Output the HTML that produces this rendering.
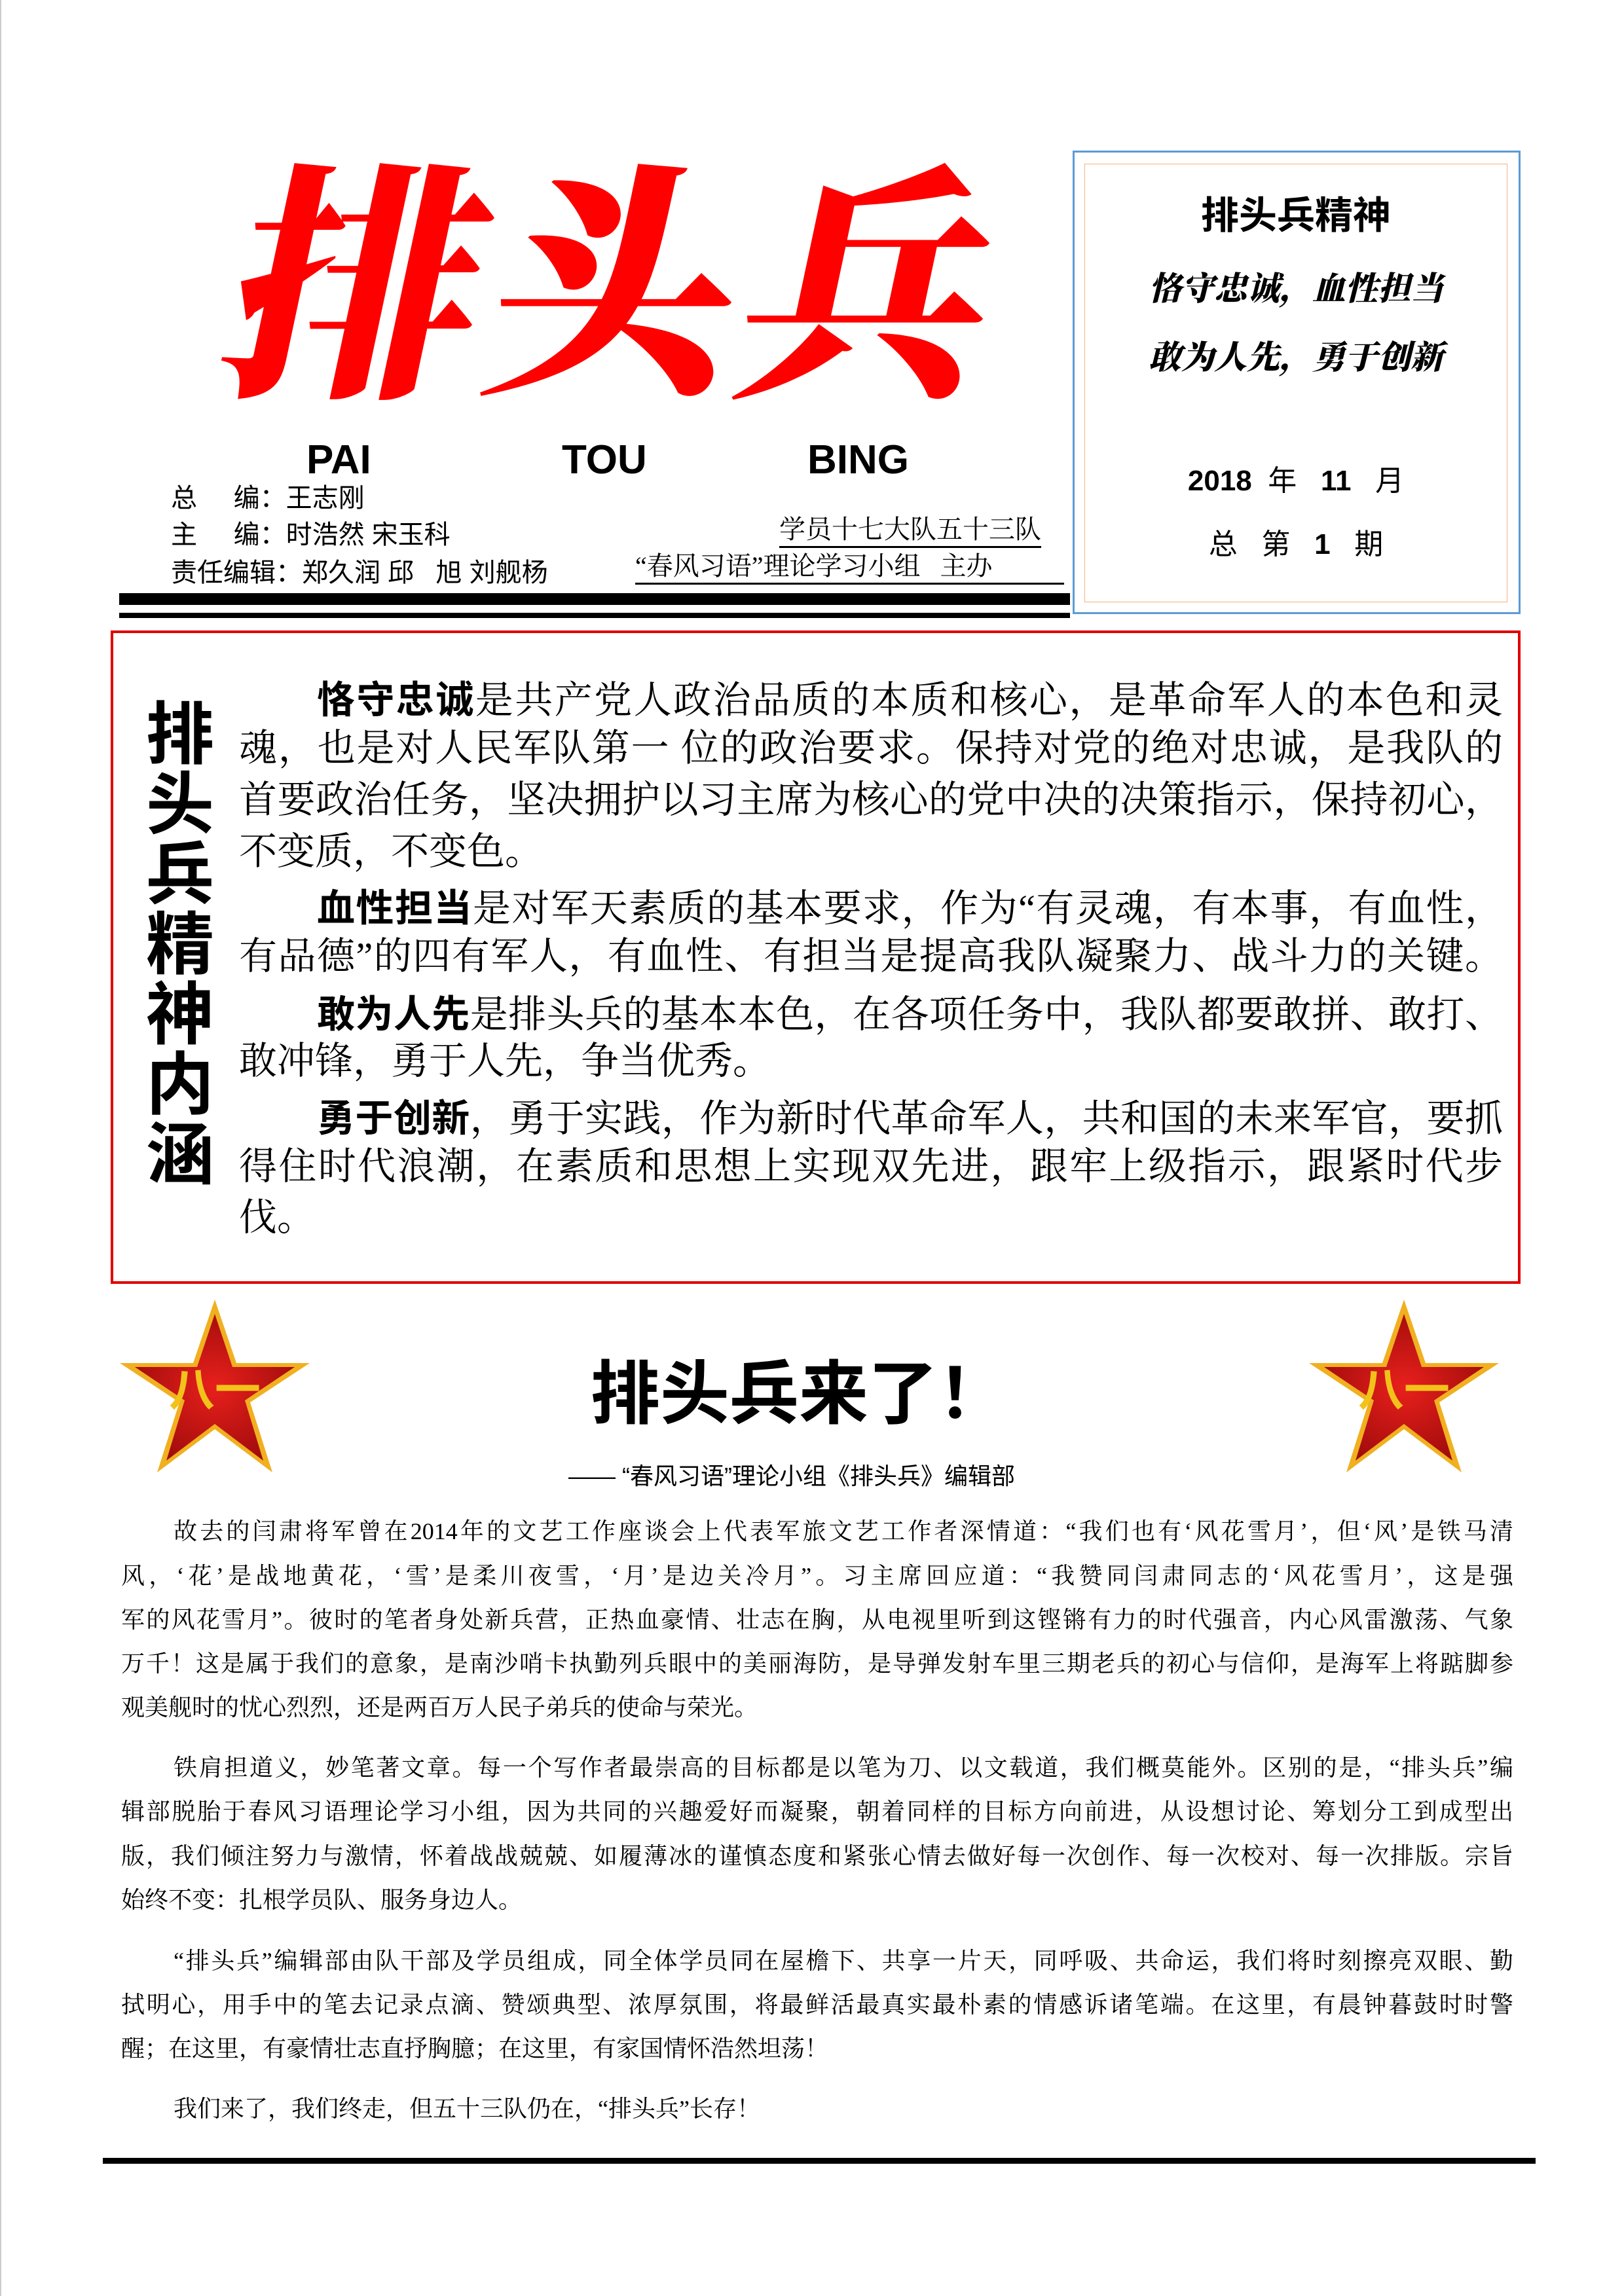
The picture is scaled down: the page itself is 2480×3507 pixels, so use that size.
<!DOCTYPE html>
<html><head><meta charset="utf-8">
<style>
html,body{margin:0;padding:0;background:#fff}
body{width:2480px;height:3507px;position:relative;overflow:hidden;font-family:"Liberation Sans","Noto Sans CJK SC",sans-serif;color:#000}
.a{position:absolute;white-space:nowrap}
.l{position:absolute;white-space:nowrap;text-align:justify;text-align-last:justify}
.s{font-family:"Liberation Serif","Noto Serif CJK SC",serif}
.rb{left:365px;width:1930px;font-size:58px;height:80px;line-height:80px}
.bd{left:185px;width:2126px;font-size:36px;height:67px;line-height:67px}
</style></head><body>
<div class="a" style="left:0;top:0;width:2px;height:3507px;background:#ccc"></div>

<div class="a" style="left:320px;top:190px;font-family:'Noto Serif CJK SC',serif;font-weight:900;font-size:380px;line-height:440px;color:#f00;letter-spacing:10px;transform:skewX(-12deg);transform-origin:left bottom">排头兵</div>

<div class="a" style="left:468px;top:665px;font-size:62px;font-weight:bold;line-height:75px">PAI</div>
<div class="a" style="left:858px;top:665px;font-size:62px;font-weight:bold;line-height:75px">TOU</div>
<div class="a" style="left:1233px;top:665px;font-size:62px;font-weight:bold;line-height:75px">BING</div>

<div class="a" style="left:261px;top:735px;font-size:40px;line-height:52px">总&nbsp;&nbsp;&nbsp;&nbsp;&nbsp;编：王志刚</div>
<div class="a" style="left:261px;top:791px;font-size:40px;line-height:52px">主&nbsp;&nbsp;&nbsp;&nbsp;&nbsp;编：时浩然&nbsp;宋玉科</div>
<div class="a" style="left:261px;top:849px;font-size:40px;line-height:52px">责任编辑：郑久润&nbsp;邱&nbsp;&nbsp;&nbsp;旭&nbsp;刘舰杨</div>
<div class="a s" style="left:1190px;top:784px;font-size:40px;line-height:50px;border-bottom:3px solid #000">学员十七大队五十三队</div>
<div class="a s" style="left:970px;top:840px;font-size:40px;line-height:50px;border-bottom:3px solid #000;width:655px">“春风习语”理论学习小组&nbsp;&nbsp;&nbsp;主办</div>

<div class="a" style="left:182px;top:906px;width:1452px;height:18px;background:#000"></div>
<div class="a" style="left:182px;top:936px;width:1452px;height:8px;background:#000"></div>

<div class="a" style="left:1638px;top:230px;width:678px;height:702px;border:3px solid #5b9bd5"></div>
<div class="a" style="left:1656px;top:250px;width:644px;height:668px;border:1px solid #f4b183"></div>
<div class="a" style="left:1656px;top:295px;width:646px;text-align:center;font-size:58px;font-weight:bold;line-height:70px">排头兵精神</div>
<div class="a" style="left:1656px;top:405px;width:646px;text-align:center;font-family:'Noto Serif CJK SC',serif;font-size:50px;font-weight:900;line-height:64px;font-style:italic">恪守忠诚，血性担当</div>
<div class="a" style="left:1656px;top:510px;width:646px;text-align:center;font-family:'Noto Serif CJK SC',serif;font-size:50px;font-weight:900;line-height:64px;font-style:italic">敢为人先，勇于创新</div>
<div class="a" style="left:1656px;top:707px;width:646px;text-align:center;font-size:44px;line-height:56px"><b>2018</b>&nbsp;&nbsp;年&nbsp;&nbsp;&nbsp;<b>11</b>&nbsp;&nbsp;&nbsp;月</div>
<div class="a" style="left:1656px;top:804px;width:646px;text-align:center;font-size:44px;line-height:56px">总&nbsp;&nbsp;&nbsp;第&nbsp;&nbsp;&nbsp;<b>1</b>&nbsp;&nbsp;&nbsp;期</div>

<div class="a" style="left:169px;top:963px;width:2145px;height:990px;border:4px solid #e00000"></div>
<div class="a" style="left:220px;top:1070px;width:110px;font-size:104px;font-weight:bold;line-height:107px;white-space:normal;text-align:center">排<br>头<br>兵<br>精<br>神<br>内<br>涵</div>

<div class="l s rb" style="top:1024px;left:484px;width:1811px"><b style="font-family:'Noto Sans CJK SC',sans-serif">恪守忠诚</b>是共产党人政治品质的本质和核心，是革命军人的本色和灵</div>
<div class="l s rb" style="top:1103px">魂，也是对人民军队第一 位的政治要求。保持对党的绝对忠诚，是我队的</div>
<div class="l s rb" style="top:1182px">首要政治任务，坚决拥护以习主席为核心的党中决的决策指示，保持初心，</div>
<div class="a s rb" style="top:1261px">不变质，不变色。</div>
<div class="l s rb" style="top:1342px;left:484px;width:1811px"><b style="font-family:'Noto Sans CJK SC',sans-serif">血性担当</b>是对军天素质的基本要求，作为“有灵魂，有本事，有血性，</div>
<div class="l s rb" style="top:1421px">有品德”的四有军人，有血性、有担当是提高我队凝聚力、战斗力的关键。</div>
<div class="l s rb" style="top:1504px;left:484px;width:1811px"><b style="font-family:'Noto Sans CJK SC',sans-serif">敢为人先</b>是排头兵的基本本色，在各项任务中，我队都要敢拼、敢打、</div>
<div class="a s rb" style="top:1581px">敢冲锋，勇于人先，争当优秀。</div>
<div class="l s rb" style="top:1663px;left:484px;width:1811px"><b style="font-family:'Noto Sans CJK SC',sans-serif">勇于创新</b>，勇于实践，作为新时代革命军人，共和国的未来军官，要抓</div>
<div class="l s rb" style="top:1742px">得住时代浪潮，在素质和思想上实现双先进，跟牢上级指示，跟紧时代步</div>
<div class="a s rb" style="top:1820px">伐。</div>

<svg class="a" style="left:178px;top:1985px" width="300" height="270" viewBox="-150 -140 300 270">
<defs><radialGradient id="g1" cx="0.5" cy="0.5" r="0.6"><stop offset="0" stop-color="#e8201c"/><stop offset="1" stop-color="#9a0a0a"/></radialGradient></defs>
<polygon points="0,-140 33,-43 145,-43 54,17 88,124 0,58 -88,124 -54,17 -145,-43 -33,-43" fill="#f0b020"/>
<polygon points="0,-118 27,-37 122,-37 46,14 74,106 0,50 -74,106 -46,14 -122,-37 -27,-37" fill="url(#g1)"/>
<text x="0" y="22" text-anchor="middle" font-size="70" font-weight="bold" fill="#f2c21a" font-family="Liberation Sans,Noto Sans CJK SC,sans-serif">八一</text>
</svg>
<svg class="a" style="left:1994px;top:1985px" width="300" height="270" viewBox="-150 -140 300 270">
<polygon points="0,-140 33,-43 145,-43 54,17 88,124 0,58 -88,124 -54,17 -145,-43 -33,-43" fill="#f0b020"/>
<polygon points="0,-118 27,-37 122,-37 46,14 74,106 0,50 -74,106 -46,14 -122,-37 -27,-37" fill="url(#g1)"/>
<text x="0" y="22" text-anchor="middle" font-size="70" font-weight="bold" fill="#f2c21a" font-family="Liberation Sans,Noto Sans CJK SC,sans-serif">八一</text>
</svg>

<div class="a" style="left:860px;top:2065px;width:720px;text-align:center;font-size:106px;font-weight:bold;line-height:130px">排头兵来了！</div>
<div class="a" style="left:868px;top:2230px;font-size:36px;line-height:50px">——&nbsp;“春风习语”理论小组《排头兵》编辑部</div>

<div class="l s bd" style="top:2306px;left:265px;width:2046px">故去的闫肃将军曾在2014年的文艺工作座谈会上代表军旅文艺工作者深情道：“我们也有‘风花雪月’，但‘风’是铁马清</div>
<div class="l s bd" style="top:2374px">风，‘花’是战地黄花，‘雪’是柔川夜雪，‘月’是边关冷月”。习主席回应道：“我赞同闫肃同志的‘风花雪月’，这是强</div>
<div class="l s bd" style="top:2441px">军的风花雪月”。彼时的笔者身处新兵营，正热血豪情、壮志在胸，从电视里听到这铿锵有力的时代强音，内心风雷激荡、气象</div>
<div class="l s bd" style="top:2508px">万千！这是属于我们的意象，是南沙哨卡执勤列兵眼中的美丽海防，是导弹发射车里三期老兵的初心与信仰，是海军上将踮脚参</div>
<div class="a s bd" style="top:2575px">观美舰时的忧心烈烈，还是两百万人民子弟兵的使命与荣光。</div>

<div class="l s bd" style="top:2667px;left:265px;width:2046px">铁肩担道义，妙笔著文章。每一个写作者最崇高的目标都是以笔为刀、以文载道，我们概莫能外。区别的是，“排头兵”编</div>
<div class="l s bd" style="top:2734px">辑部脱胎于春风习语理论学习小组，因为共同的兴趣爱好而凝聚，朝着同样的目标方向前进，从设想讨论、筹划分工到成型出</div>
<div class="l s bd" style="top:2802px">版，我们倾注努力与激情，怀着战战兢兢、如履薄冰的谨慎态度和紧张心情去做好每一次创作、每一次校对、每一次排版。宗旨</div>
<div class="a s bd" style="top:2869px">始终不变：扎根学员队、服务身边人。</div>

<div class="l s bd" style="top:2962px;left:265px;width:2046px">“排头兵”编辑部由队干部及学员组成，同全体学员同在屋檐下、共享一片天，同呼吸、共命运，我们将时刻擦亮双眼、勤</div>
<div class="l s bd" style="top:3029px">拭明心，用手中的笔去记录点滴、赞颂典型、浓厚氛围，将最鲜活最真实最朴素的情感诉诸笔端。在这里，有晨钟暮鼓时时警</div>
<div class="a s bd" style="top:3096px">醒；在这里，有豪情壮志直抒胸臆；在这里，有家国情怀浩然坦荡！</div>

<div class="a s bd" style="top:3188px;left:265px">我们来了，我们终走，但五十三队仍在，“排头兵”长存！</div>

<div class="a" style="left:157px;top:3296px;width:2188px;height:9px;background:#000"></div>
</body></html>
